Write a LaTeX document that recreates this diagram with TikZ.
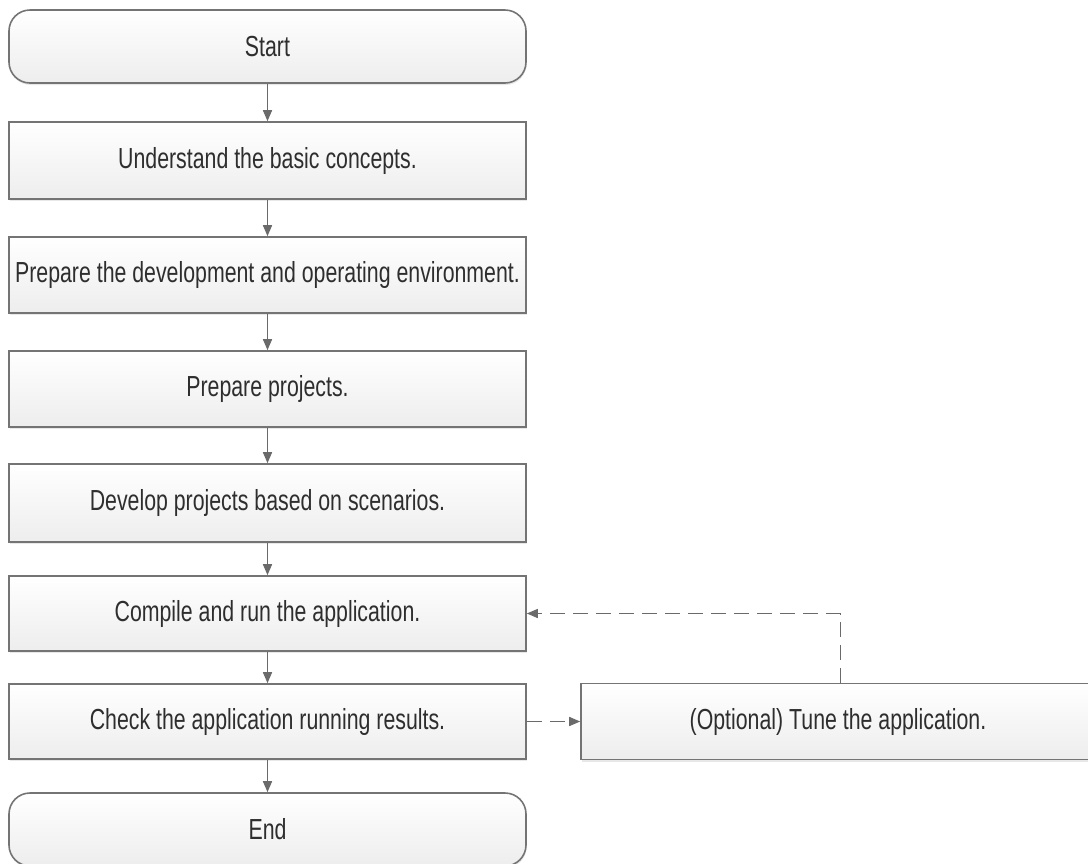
\documentclass[tikz,border=0pt]{standalone}
\usepackage{fontspec}
\setmainfont{Liberation Sans}[FakeStretch=0.735]
\usetikzlibrary{arrows.meta,shadows}
\definecolor{edge}{HTML}{747474}
\definecolor{ink}{HTML}{2E2E2E}
\definecolor{arr}{HTML}{6A6A6A}
\begin{document}
\begin{tikzpicture}[x=1pt,y=-1pt,
  base/.style={draw=edge, line width=1.6pt, top color=white, bottom color=black!7,
    text=ink, inner sep=0pt, font=\fontsize{29}{32}\selectfont,
    drop shadow={shadow xshift=0.6pt,shadow yshift=-2pt,opacity=0.18}},
  stepbox/.style={base, rectangle, minimum width=517pt},
  termbox/.style={base, rectangle, rounded corners=21pt, minimum width=517pt, minimum height=73pt},
  flow/.style={draw=arr, line width=1.5pt, -{Triangle[length=11pt,width=9pt]}},
  dflow/.style={flow, dash pattern=on 15pt off 8pt}]
\useasboundingbox (0,0) rectangle (1088,863);
\node[termbox] (start) at (267.5,46.5) {Start};
\node[stepbox, minimum height=77pt] (s1) at (267.5,160.5) {Understand the basic concepts.};
\node[stepbox, minimum height=76pt] (s2) at (267.5,275) {Prepare the development and operating environment.};
\node[stepbox, minimum height=76pt] (s3) at (267.5,389) {Prepare projects.};
\node[stepbox, minimum height=78pt] (s4) at (267.5,503) {Develop projects based on scenarios.};
\node[stepbox, minimum height=75pt] (s5) at (267.5,613.5) {Compile and run the application.};
\node[stepbox, minimum height=75pt] (s6) at (267.5,721.5) {Check the application running results.};
\node[termbox] (end) at (267.5,829.5) {End};
\node[stepbox, minimum width=514pt, minimum height=76pt] (tune) at (838,721.5) {(Optional) Tune the application.};
\coordinate (c1) at (840.5,613.5);
\draw[flow] (start) -- (s1);
\draw[flow] (s1) -- (s2);
\draw[flow] (s2) -- (s3);
\draw[flow] (s3) -- (s4);
\draw[flow] (s4) -- (s5);
\draw[flow] (s5) -- (s6);
\draw[flow] (s6) -- (end);
\draw[dflow] (s6.east) -- (tune.west);
\draw[dflow] (c1 |- tune.north) -- (c1) -- (s5.east);
\end{tikzpicture}
\end{document}
